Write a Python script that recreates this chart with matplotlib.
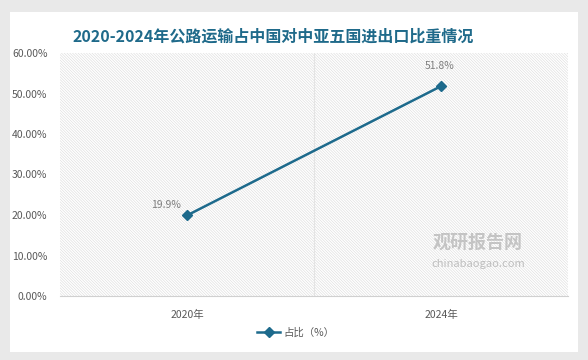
import matplotlib
matplotlib.use("Agg")
import matplotlib.pyplot as plt
from matplotlib.patches import Rectangle
from matplotlib.ticker import FuncFormatter, MultipleLocator

plt.rcParams['font.family'] = ['Noto Sans CJK SC', 'DejaVu Sans']
plt.rcParams['hatch.color'] = '#dadada'
plt.rcParams['hatch.linewidth'] = 0.4

categories = ['2020年', '2024年']
values = [19.9, 51.8]
labels = ['19.9%', '51.8%']
series_name = '占比（%）'
title = '2020-2024年公路运输占中国对中亚五国进出口比重情况'

W, H = 588, 360
fig = plt.figure(figsize=(W / 100, H / 100), dpi=100)
fig.patch.set_facecolor('#e9e9e9')
fig.add_artist(Rectangle((10 / W, 1 - 352 / H), 568 / W, 340 / H,
                         transform=fig.transFigure, facecolor='white',
                         edgecolor='none', zorder=0))

ax = fig.add_axes([60 / W, 1 - 296 / H, 508 / W, 243 / H])
ax.set_facecolor('white')
ax.add_patch(Rectangle((0, 0), 1, 1, transform=ax.transAxes, facecolor='white',
                       edgecolor='#dadada', hatch='\\' * 12, linewidth=0, zorder=0))
x = [0, 1]
line, = ax.plot(x, values, color='#1d6a8c', lw=1.8, marker='D', ms=5,
                zorder=3, label=series_name)
offsets = [(-15, 4), (-1, 11)]
for xi, v, t, off in zip(x, values, labels, offsets):
    ax.annotate(t, (xi, v), xytext=off, textcoords='offset points',
                ha='center', va='bottom', fontsize=7.5, color='#7f7f7f')

ax.set_xlim(-0.5, 1.5)
ax.set_ylim(0, 60)
ax.yaxis.set_major_locator(MultipleLocator(10))
ax.yaxis.set_major_formatter(FuncFormatter(lambda v, p: f'{v:.2f}%'))
ax.set_xticks(x)
ax.set_xticklabels(categories)
ax.axvline(0.5, color='#e4e4e4', lw=0.8, zorder=1)
for s in ['top', 'right', 'left']:
    ax.spines[s].set_visible(False)
ax.spines['bottom'].set_color('#d0d0d0')
ax.tick_params(axis='y', length=0, labelsize=7.5, labelcolor='#595959', pad=9)
ax.tick_params(axis='x', length=0, labelsize=7.5, labelcolor='#595959', pad=10)

fig.text(273 / W, 1 - 37 / H, title, ha='center', va='center', fontsize=11.5,
         fontweight='bold', color='#1f6a8a')

fig.legend(handles=[line], loc='center', bbox_to_anchor=(296 / W, 1 - 333 / H),
           frameon=False, fontsize=7.5, labelcolor='#595959', handlelength=2.2,
           handletextpad=0.3)

fig.text(478 / W, 1 - 242 / H, '观研报告网', ha='center', va='center', fontsize=13,
         fontweight='bold', color='#b0b0b0', alpha=0.7)
fig.text(478 / W, 1 - 264 / H, 'chinabaogao.com', ha='center', va='center', fontsize=8,
         color='#b0b0b0', alpha=0.8)

fig.savefig('out.png', dpi=100, facecolor=fig.get_facecolor())
